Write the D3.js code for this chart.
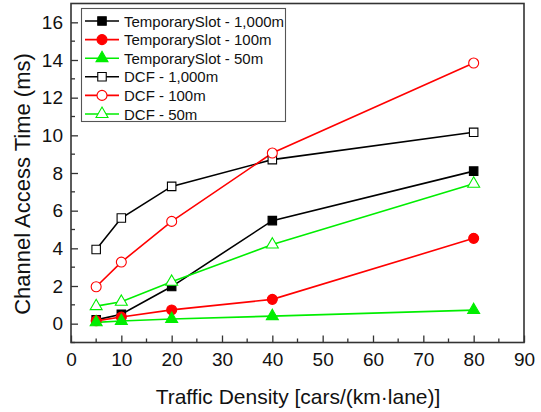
<!DOCTYPE html>
<html lang="en">
<head>
<meta charset="UTF-8">
<title>Channel Access Time</title>
<script src="https://cdn.jsdelivr.net/npm/d3@7"></script>
<style>
  body { margin: 0; background: #fff; }
  text { font-family: Arial, "Liberation Sans", sans-serif; }
</style>
</head>
<body>
<svg width="541" height="412"></svg>
<script>
// traffic density (x)
const density = [5, 10, 20, 40, 80];

const tsLong   = [0.2, 0.5, 1.97, 5.47, 8.1];
const tsMid    = [0.15, 0.35, 0.73, 1.29, 4.53];
const tsShort  = [0.07, 0.14, 0.25, 0.4, 0.72];
const dcfLong  = [3.94, 5.61, 7.29, 8.71, 10.16];
const dcfMid   = [1.96, 3.27, 5.43, 9.06, 13.84];
const dcfShort = [0.93, 1.16, 2.22, 4.2, 7.43];

const seriesNames = ['TemporarySlot - 1,000m', 'TemporarySlot - 100m', 'TemporarySlot - 50m',
                     'DCF - 1,000m', 'DCF - 100m', 'DCF - 50m'];

const xTicks = [0, 10, 20, 30, 40, 50, 60, 70, 80, 90];
const yTicks = [0, 2, 4, 6, 8, 10, 12, 14, 16];

const series = [
  {name: seriesNames[0], vals: tsLong,   color: '#000', shape: 'square',   fill: true},
  {name: seriesNames[1], vals: tsMid,    color: '#f00', shape: 'circle',   fill: true},
  {name: seriesNames[2], vals: tsShort,  color: '#0e0', shape: 'triangle', fill: true},
  {name: seriesNames[3], vals: dcfLong,  color: '#000', shape: 'square',   fill: false},
  {name: seriesNames[4], vals: dcfMid,   color: '#f00', shape: 'circle',   fill: false},
  {name: seriesNames[5], vals: dcfShort, color: '#0e0', shape: 'triangle', fill: false}
];

const svg = d3.select('svg');
const L = 71, R = 524, T = 3.5, B = 342.5;

const x = d3.scaleLinear().domain([0, 90]).range([L, R]);
const y = d3.scaleLinear().domain([-1, 17]).range([B, T]);

const symbolFor = {
  square: d3.symbol().type(d3.symbolSquare).size(72),
  circle: d3.symbol().type(d3.symbolCircle).size(78),
  triangle: d3.symbol().type(d3.symbolTriangle).size(62)
};

// axes (ticks inside)
const xAxis = d3.axisBottom(x).tickValues(xTicks).tickSize(-7).tickPadding(10);
const yAxis = d3.axisLeft(y).tickValues(yTicks).tickSize(-7).tickPadding(8);

const gx = svg.append('g').attr('transform', `translate(0,${B})`).call(xAxis);
const gy = svg.append('g').attr('transform', `translate(${L},0)`).call(yAxis);
[gx, gy].forEach(g => {
  g.select('.domain').remove();
  g.selectAll('line').attr('stroke', '#333').attr('stroke-width', 1.3);
  g.selectAll('text').attr('font-size', 19).attr('fill', '#111')
    .style('font-family', 'Arial, "Liberation Sans", sans-serif');
});

// minor ticks
svg.append('g').selectAll('line')
  .data(d3.range(5, 90, 10))
  .join('line')
  .attr('x1', d => x(d)).attr('x2', d => x(d))
  .attr('y1', B).attr('y2', B - 4)
  .attr('stroke', '#333').attr('stroke-width', 1.3);
svg.append('g').selectAll('line')
  .data(d3.range(-1, 17, 2))
  .join('line')
  .attr('x1', L).attr('x2', L + 4)
  .attr('y1', d => y(d)).attr('y2', d => y(d))
  .attr('stroke', '#333').attr('stroke-width', 1.3);

// frame
svg.append('rect')
  .attr('x', L).attr('y', T).attr('width', R - L).attr('height', B - T)
  .attr('fill', 'none').attr('stroke', '#333').attr('stroke-width', 1.6);

// lines + markers
const line = d3.line().x((d, i) => x(density[i])).y(d => y(d));

series.forEach(s => {
  svg.append('path')
    .datum(s.vals)
    .attr('d', line)
    .attr('fill', 'none')
    .attr('stroke', s.color)
    .attr('stroke-width', 1.6);
});
series.forEach(s => {
  svg.append('g').selectAll('path')
    .data(s.vals)
    .join('path')
    .attr('d', symbolFor[s.shape])
    .attr('transform', (d, i) => `translate(${x(density[i])},${y(d)})`)
    .attr('fill', s.fill ? s.color : '#fff')
    .attr('stroke', s.color)
    .attr('stroke-width', 1.1);
});

// legend
const lg = svg.append('g');
lg.append('rect')
  .attr('x', 81.5).attr('y', 8.5).attr('width', 204).attr('height', 113)
  .attr('fill', '#fff').attr('stroke', '#555').attr('stroke-width', 1.1);
series.forEach((s, i) => {
  const yy = 21 + i * 18.6;
  lg.append('line').attr('x1', 85).attr('x2', 119).attr('y1', yy).attr('y2', yy)
    .attr('stroke', s.color).attr('stroke-width', 1.6);
  lg.append('path').attr('d', symbolFor[s.shape])
    .attr('transform', `translate(102,${yy})`)
    .attr('fill', s.fill ? s.color : '#fff')
    .attr('stroke', s.color).attr('stroke-width', 1.1);
  lg.append('text').attr('x', 124).attr('y', yy + 5.5)
    .attr('font-size', 15).attr('fill', '#111').text(s.name);
});

// axis titles
svg.append('text')
  .attr('x', 298).attr('y', 404)
  .attr('text-anchor', 'middle').attr('font-size', 21).attr('fill', '#111')
  .text('Traffic Density [cars/(km\u00b7lane)]');
svg.append('text')
  .attr('transform', `translate(30,184) rotate(-90)`)
  .attr('text-anchor', 'middle').attr('font-size', 22).attr('fill', '#111')
  .text('Channel Access Time (ms)');
</script>
</body>
</html>
